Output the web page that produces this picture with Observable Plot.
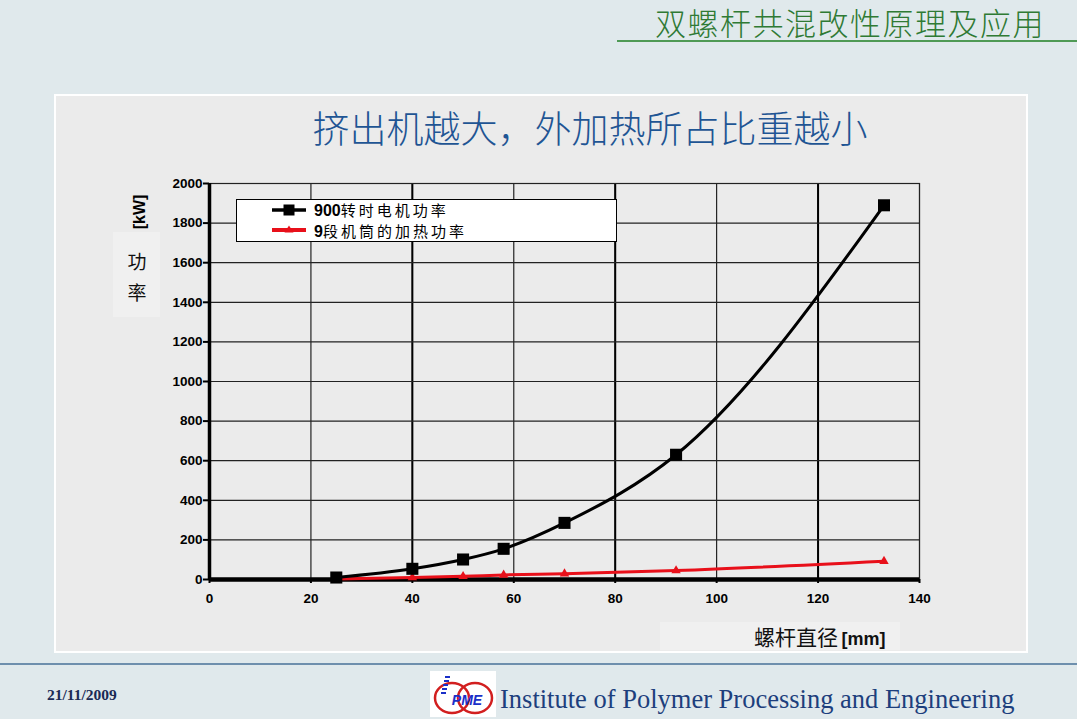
<!DOCTYPE html>
<html>
<head>
<meta charset="utf-8">
<script src="https://cdn.jsdelivr.net/npm/d3@7"></script>
<script src="https://cdn.jsdelivr.net/npm/@observablehq/plot@0.6"></script>
<style>
  html, body { margin: 0; padding: 0; }
  body { width: 1077px; height: 719px; background: #e0e9ec; position: relative; overflow: hidden;
         font-family: "Noto Sans CJK SC", "Liberation Sans", sans-serif; }
  .abs { position: absolute; }
  #header { left: 655px; top: 3px; font-size: 31px; letter-spacing: 1.5px; font-weight: 300; color: #2f7a34; white-space: nowrap; line-height: 38px; }
  #hline { left: 617px; top: 40px; width: 460px; height: 2px; background: #4f9a55; }
  #panel { left: 54px; top: 94px; width: 974px; height: 559px; background: #ebebeb; border: 2px solid #ffffff; box-sizing: border-box; }
  #title { left: 0; width: 1180px; top: 104px; text-align: center; font-size: 37px; font-weight: 300; color: #1f5594; line-height: 46px; white-space: nowrap; }
  #ybox { left: 113px; top: 232px; width: 47px; height: 85px; background: #f0f0f0; }
  #xbox { left: 660px; top: 622px; width: 240px; height: 28px; background: #f0f0f0; }
  #chart { left: 0; top: 0; }
  #kw { left: 140px; top: 212px; transform: translate(-50%,-50%) rotate(-90deg); font-family: "Liberation Sans", Arial, sans-serif; font-weight: bold; font-size: 16px; white-space: nowrap; }
  .ych { font-size: 19px; color: #111; transform: translate(-50%,-50%); line-height: 1; }
  #legend { left: 236px; top: 199px; width: 381px; height: 43px; background: #fff; border: 1px solid #000; box-sizing: border-box; }
  .legtxt { font-size: 15px; letter-spacing: 3px; color: #000; white-space: nowrap; line-height: 1; transform: translateY(-50%); }
  .legtxt b { font-family: "Liberation Sans", Arial, sans-serif; font-weight: bold; font-size: 16px; letter-spacing: 0; }
  #xlabel { left: 754px; top: 637px; transform: translateY(-50%); white-space: nowrap; color: #111; line-height: 1; }
  #xlabel .cn { font-size: 21px; }
  #xlabel .mm { font-family: "Liberation Sans", Arial, sans-serif; font-weight: bold; font-size: 18px; }
  #fline { left: 0; top: 663px; width: 1077px; height: 2px; background: #6e8fad; }
  #date { left: 47px; top: 695px; transform: translateY(-50%); font-family: "Liberation Serif", serif; font-weight: bold; font-size: 15.5px; color: #1a2a55; }
  #inst { left: 500px; top: 699px; transform: translateY(-50%); font-family: "Liberation Serif", "Times New Roman", serif; font-size: 26.5px; color: #1d3f7d; white-space: nowrap; line-height: 1; }
  #logo { left: 430px; top: 671px; }
</style>
</head>
<body>
<script>
// ---- data ----
const screwDiameter = [25, 40, 50, 58, 70, 92, 133];          // 螺杆直径 [mm]
const motorPower    = [10, 54, 101, 155, 286, 630, 1890];      // 900转时电机功率 [kW]
const heatingPower  = [3, 10, 16, 23, 29, 45, 92];             // 9段机筒的加热功率 [kW]
const xTicks = [0, 20, 40, 60, 80, 100, 120, 140];
const yTicks = [0, 200, 400, 600, 800, 1000, 1200, 1400, 1600, 1800, 2000];
const boldGridX = [40, 80, 120];
const seriesNames = ["900转时电机功率", "9段机筒的加热功率"];
const chartTitle = "挤出机越大，外加热所占比重越小";
const slideTitle = "双螺杆共混改性原理及应用";
const xLabel = "螺杆直径";
const yLabel = "功率";

const motor = screwDiameter.map((d, i) => ({d, p: motorPower[i]}));
const heat  = screwDiameter.map((d, i) => ({d, p: heatingPower[i]}));
</script>

<div id="panel" class="abs"></div>
<div id="ybox" class="abs"></div>
<div id="xbox" class="abs"></div>
<div id="chart" class="abs"></div>
<div id="header" class="abs"></div>
<div id="hline" class="abs"></div>
<div id="title" class="abs"></div>
<div id="kw" class="abs">[kW]</div>
<div id="y1" class="abs ych" style="left:137px; top:260px;"></div>
<div id="y2" class="abs ych" style="left:137px; top:291px;"></div>
<div id="legend" class="abs">
  <svg width="381" height="43" style="position:absolute;left:0;top:0">
    <line x1="35" x2="69" y1="10" y2="10" stroke="#000" stroke-width="3.5"/>
    <rect x="46.5" y="4.5" width="11" height="11" fill="#000"/>
    <line x1="35" x2="69" y1="30" y2="30" stroke="#e8101a" stroke-width="4"/>
    <path d="M52,25.5 L56.5,32.5 L47.5,32.5 Z" fill="#e8101a"/>
  </svg>
  <div id="leg1" class="abs legtxt" style="left:77px; top:10px;"></div>
  <div id="leg2" class="abs legtxt" style="left:77px; top:31px;"></div>
</div>
<div id="xlabel" class="abs"><span class="cn"></span> <span class="mm">[mm]</span></div>
<div id="fline" class="abs"></div>
<div id="date" class="abs">21/11/2009</div>
<svg id="logo" class="abs" width="66" height="46">
  <rect x="0" y="0" width="66" height="46" fill="#fff"/>
  <ellipse cx="22" cy="27" rx="17" ry="15" fill="none" stroke="#d21f1f" stroke-width="2.5"/>
  <ellipse cx="45" cy="27" rx="17" ry="15" fill="none" stroke="#d21f1f" stroke-width="2.5"/>
  <g stroke="#1a2fc8" stroke-width="2">
    <line x1="15" x2="20" y1="6" y2="6"/><line x1="14" x2="19" y1="10" y2="10"/>
    <line x1="13" x2="18" y1="14" y2="14"/><line x1="12" x2="17" y1="18" y2="18"/>
    <line x1="11" x2="16" y1="22" y2="22"/>
  </g>
  <text x="37" y="34" text-anchor="middle" font-family="Liberation Sans, Arial" font-weight="bold" font-style="italic" font-size="14" fill="#1a2fc8">PME</text>
</svg>
<div id="inst" class="abs">Institute of Polymer Processing and Engineering</div>

<script>
document.getElementById("header").textContent = slideTitle;
document.getElementById("title").textContent = chartTitle;
document.getElementById("y1").textContent = yLabel[0];
document.getElementById("y2").textContent = yLabel[1];
document.getElementById("leg1").innerHTML = "<b>900</b>转时电机功率";
document.getElementById("leg2").innerHTML = "<b>9</b>段机筒的加热功率";
document.querySelector("#xlabel .cn").textContent = xLabel;

const red = "#e8101a";
const plot = Plot.plot({
  width: 1077,
  height: 719,
  marginLeft: 209,
  marginRight: 158,
  marginTop: 183,
  marginBottom: 140,
  style: { background: "transparent", overflow: "visible", color: "#000" },
  x: { domain: [0, 140] },
  y: { domain: [0, 2000] },
  marks: [
    Plot.gridX(xTicks, { stroke: "#111", strokeOpacity: 1, strokeWidth: 1.1 }),
    Plot.gridX(boldGridX, { stroke: "#000", strokeOpacity: 1, strokeWidth: 2 }),
    Plot.gridY(yTicks, { stroke: "#222", strokeOpacity: 1, strokeWidth: 1.2 }),
    Plot.frame({ stroke: "#222", strokeWidth: 1.2 }),
    Plot.axisX({ ticks: xTicks, tickSize: 4, tickPadding: 10, fontSize: 13.5, fontWeight: "bold",
                 fontFamily: "Liberation Sans, Arial, sans-serif", tickFormat: d => String(d), label: null, strokeWidth: 2 }),
    Plot.axisY({ ticks: yTicks, tickSize: 6, tickPadding: 1, fontSize: 13.5, fontWeight: "bold",
                 fontFamily: "Liberation Sans, Arial, sans-serif", tickFormat: d => String(d), label: null, strokeWidth: 2 }),
    Plot.ruleX([0], { stroke: "#000", strokeWidth: 3.5 }),
    Plot.ruleY([0], { stroke: "#000", strokeWidth: 4.5 }),
    Plot.line(heat, { x: "d", y: "p", stroke: red, strokeWidth: 3, curve: "monotone-x" }),
    Plot.dot(heat, { x: "d", y: "p", symbol: "triangle", fill: red, r: 3.5 }),
    Plot.line(motor, { x: "d", y: "p", stroke: "#000", strokeWidth: 3, curve: "monotone-x" }),
    Plot.dot(motor, { x: "d", y: "p", symbol: "square", fill: "#000", r: 6.8 })
  ]
});
document.getElementById("chart").appendChild(plot);
</script>
</body>
</html>
